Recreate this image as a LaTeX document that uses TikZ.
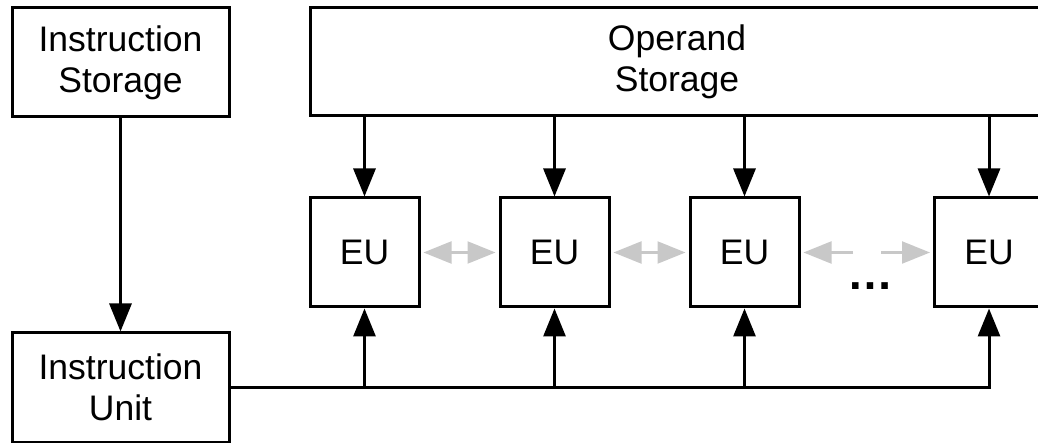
\documentclass[tikz,border=0pt]{standalone}
\usepackage{fontspec}
\setmainfont{Liberation Sans}
\usetikzlibrary{arrows.meta}
\definecolor{arrowgray}{RGB}{200,200,200}
\begin{document}
\begin{tikzpicture}[x=1pt,y=-1pt,
  box/.style={draw, line width=3pt, inner sep=0pt, align=center,
    font=\fontsize{35.5}{41}\selectfont},
  flow/.style={line width=3pt, -{Triangle[length=28pt,width=22pt]}},
  link/.style={line width=3pt},
  side/.style={draw=arrowgray, line width=2.2pt, {Triangle[length=28pt,width=22pt]}-{Triangle[length=28pt,width=22pt]}},
  sideone/.style={draw=arrowgray, line width=2.2pt, -{Triangle[length=28pt,width=22pt]}}]
\useasboundingbox (0,0) rectangle (1038,443);
\begin{scope}
\clip (0,0) rectangle (1038,443);
\node[box, minimum width=217pt, minimum height=109pt] (is) at (120.5,62.5) {Instruction\\Storage};
\node[box, minimum width=734pt, minimum height=108pt] (os) at (677,62) {Operand\\Storage};
\node[box, minimum width=217pt, minimum height=109pt] (iu) at (120.5,387.5) {Instruction\\Unit};
\node[box, minimum width=109pt, minimum height=109pt] (eu1) at (364.5,252.5) {EU};
\node[box, minimum width=109pt, minimum height=109pt] (eu2) at (554.5,252.5) {EU};
\node[box, minimum width=109pt, minimum height=109pt] (eu3) at (744.5,252.5) {EU};
\node[box, minimum width=109pt, minimum height=109pt] (eu4) at (989,252.5) {EU};
\node[font=\fontsize{46}{50}\selectfont\bfseries, inner sep=0pt] (dots) at (870,286) {…};
\coordinate (l3) at (853,252.5);
\coordinate (r4) at (881,252.5);

\draw[flow] (is.south) -- (iu.north);
\foreach \e in {eu1,eu2,eu3,eu4}{
  \draw[flow] (\e.north |- os.south) -- (\e.north);
}
\draw[link] (iu.east) -- (iu.east -| eu4.south) -- ++(0,-2);
\draw[flow] (iu.east -| eu4.south) -- (eu4.south);
\foreach \e in {eu1,eu2,eu3}{
  \draw[flow] (iu.east -| \e.south) -- (\e.south);
}
\draw[side] ([xshift=3pt]eu1.east) -- ([xshift=-3pt]eu2.west);
\draw[side] ([xshift=3pt]eu2.east) -- ([xshift=-3pt]eu3.west);
\draw[sideone] (l3) -- ([xshift=3pt]eu3.east);
\draw[sideone] (r4) -- ([xshift=-3pt]eu4.west);
\end{scope}
\end{tikzpicture}
\end{document}
